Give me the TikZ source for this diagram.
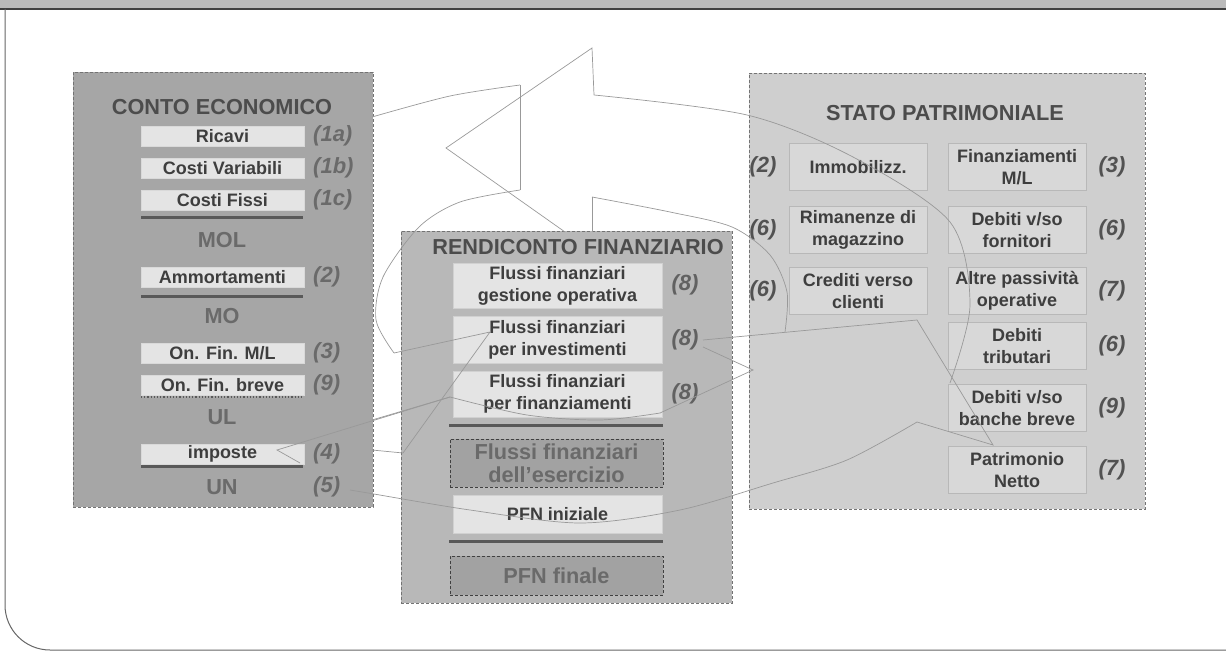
\documentclass[tikz,border=0pt]{standalone}
\usepackage{fontspec}
\setmainfont{Liberation Sans}
\usepackage{xcolor}
\usetikzlibrary{positioning}

\definecolor{cegray}{HTML}{A6A6A6}
\definecolor{rfgray}{HTML}{B8B8B8}
\definecolor{spgray}{HTML}{CFCFCF}
\definecolor{lightbox}{HTML}{E4E4E4}
\definecolor{spbox}{HTML}{D8D8D8}
\definecolor{darkbox}{HTML}{A2A2A2}
\definecolor{inktext}{HTML}{3E3E3E}
\definecolor{softtext}{HTML}{6A6A6A}

\newcommand{\itemfont}{\fontsize{18}{22}\selectfont\bfseries}
\newcommand{\headfont}{\fontsize{21.7}{23}\selectfont\bfseries}
\newcommand{\numfont}{\fontsize{22}{24}\selectfont\bfseries\itshape}

\begin{document}
\begin{tikzpicture}[x=1pt,y=-1pt,
 panel/.style={draw=black!55,densely dashed,line width=0.5pt,inner sep=0pt},
 cebox/.style={draw=black!15,fill=lightbox,minimum width=163pt,minimum height=20pt,inner sep=0pt,font=\itemfont,text=inktext},
 rfbox/.style={draw=black!18,fill=lightbox,minimum width=209pt,inner sep=0pt,align=center,font=\itemfont,text=inktext},
 rfdark/.style={draw=black!75,densely dashed,line width=0.8pt,fill=darkbox,minimum width=213pt,inner sep=0pt,align=center,font=\headfont,text=softtext},
 spitem/.style={draw=black!28,fill=spbox,minimum width=138pt,minimum height=47pt,inner sep=0pt,align=center,font=\itemfont,text=inktext},
 ttl/.style={font=\headfont,text=black!70,inner sep=0pt},
 sumtext/.style={font=\headfont,text=softtext,inner sep=0pt},
 num/.style={font=\numfont,text=softtext,inner sep=0pt},
 sepline/.style={draw=black!65,line width=3pt},
 ring/.style={draw=black!40,line width=0.7pt}]
 \useasboundingbox (0,0) rectangle (1226,652);
 % page frame
 \fill[black!27] (0,0) rectangle (1226,8);
 \draw[black!75,line width=1.2pt] (0,9) -- (1226,9);
 \draw[black!60,line width=1pt] (5,9) [rounded corners=45pt] -- (5,650) -- (1226,650);

 % conto economico
 \node[panel,fill=cegray,minimum width=300pt,minimum height=435pt] (ce) at (223,289.5) {};
 \node[ttl] (cetitle) at (222,107) {CONTO ECONOMICO};
 \node[cebox] (ricavi) at (222.5,136) {Ricavi};
 \node[cebox] (cvar) at (222.5,168) {Costi Variabili};
 \node[cebox] (cfix) at (222.5,200) {Costi Fissi};
 \node[sumtext] (mol) at (222,240) {MOL};
 \node[cebox] (amm) at (222.5,277) {Ammortamenti};
 \node[sumtext] (mo) at (222,316) {MO};
 \node[cebox] (onml) at (222.5,353) {On. Fin. M/L};
 \node[cebox] (onbr) at (222.5,385) {On. Fin. breve};
 \node[sumtext] (ul) at (222,417) {UL};
 \node[cebox] (imp) at (222.5,454) {imposte};
 \node[sumtext] (un) at (222,487) {UN};
 \node[num,anchor=west] (n1a) at (313,136) {(1a)};
 \node[num,anchor=west] (n1b) at (313,168) {(1b)};
 \node[num,anchor=west] (n1c) at (313,200) {(1c)};
 \node[num,anchor=west] (n2) at (313,277) {(2)};
 \node[num,anchor=west] (n3) at (313,353) {(3)};
 \node[num,anchor=west] (n9) at (313,385) {(9)};
 \node[num,anchor=west] (n4) at (313,454) {(4)};
 \node[num,anchor=west] (n5) at (313,487) {(5)};
 \draw[sepline] (141,218) -- (303,218);
 \draw[sepline] (141,297) -- (303,297);
 \draw[sepline,line width=1.2pt,dotted] (141,397) -- (303,397);
 \draw[sepline] (141,466) -- (303,466);

 % rendiconto finanziario
 \node[panel,fill=rfgray,minimum width=331pt,minimum height=372pt] (rf) at (566.5,417) {};
 \node[ttl] (rftitle) at (578,247) {RENDICONTO FINANZIARIO};
 \node[rfbox,minimum height=45pt] (fop) at (557.5,285.5) {Flussi finanziari\\gestione operativa};
 \node[rfbox,minimum height=47pt] (finv) at (557.5,339.5) {Flussi finanziari\\per investimenti};
 \node[rfbox,minimum height=46pt] (ffin) at (557.5,394) {Flussi finanziari\\per finanziamenti};
 \node[rfdark,minimum height=48pt] (fes) at (556.5,463) {Flussi finanziari\\dell'esercizio};
 \node[rfbox,minimum height=38pt] (pfni) at (557.5,514) {PFN iniziale};
 \node[rfdark,minimum height=39pt] (pfnf) at (556.5,575.5) {PFN finale};
 \node[num,text=black!62] (n8a) at (685,285) {(8)};
 \node[num,text=black!62] (n8b) at (685,340) {(8)};
 \node[num,text=black!62] (n8c) at (685,394) {(8)};
 \draw[sepline] (449,425) -- (663,425);
 \draw[sepline] (449,541) -- (663,541);

 % stato patrimoniale
 \node[panel,fill=spgray,minimum width=396pt,minimum height=436pt] (sp) at (947,291) {};
 \node[ttl] (sptitle) at (945,113) {STATO PATRIMONIALE};
 \node[spitem] (immo) at (858,167) {Immobilizz.};
 \node[spitem] (rima) at (858,230) {Rimanenze di\\magazzino};
 \node[spitem] (cred) at (858,291) {Crediti verso\\clienti};
 \node[spitem] (fml) at (1017,167) {Finanziamenti\\M/L};
 \node[spitem] (dfor) at (1017,230) {Debiti v/so\\fornitori};
 \node[spitem] (altre) at (1017,291) {Altre passività\\operative};
 \node[spitem] (dtrib) at (1017,346) {Debiti\\tributari};
 \node[spitem] (dban) at (1017,408) {Debiti v/so\\banche breve};
 \node[spitem] (pn) at (1017,470) {Patrimonio\\Netto};
 \node[num,text=black!68] (s2) at (763,167) {(2)};
 \node[num,text=black!68] (s6a) at (763,230) {(6)};
 \node[num,text=black!68] (s6b) at (763,291) {(6)};
 \node[num,text=black!68] (s3) at (1112,167) {(3)};
 \node[num,text=black!68] (s6c) at (1112,230) {(6)};
 \node[num,text=black!68] (s7a) at (1112,291) {(7)};
 \node[num,text=black!68] (s6d) at (1112,346) {(6)};
 \node[num,text=black!68] (s9) at (1112,408) {(9)};
 \node[num,text=black!68] (s7b) at (1112,470) {(7)};

 % circular block arrows, outline only
 \draw[ring] plot[smooth] coordinates {(950,383) (970,305) (950,222) (853,157) (747,115) (594,95)};
 \draw[ring] (594,95) -- (592,48) -- (446,148) -- (565,232);
 \draw[ring] (592,232) -- (592,197);
 \draw[ring] plot[smooth] coordinates {(592,197) (670,212) (732,227) (770,255) (787,292) (785,332)};
 \draw[ring] plot[smooth] coordinates {(372,117) (450,96) (520,85)};
 \draw[ring] (520,85) -- (520,190);
 \draw[ring] plot[smooth] coordinates {(520,190) (460,202) (419,227) (383,277) (376,320) (394,353)};
 \draw[ring] (394,353) -- (490,332) -- (403,453) -- (372,450);
 \draw[ring] (372,420) -- (450,397);
 \draw[ring] (450,397) -- (277,450) -- (300,463);
 \draw[ring] plot[smooth] coordinates {(450,397) (527,415) (600,420) (660,413)};
 \draw[ring] (660,413) -- (753,370) -- (703,347);
 \draw[ring] (703,340) -- (917,320) -- (993,445) -- (917,422);
 \draw[ring] plot[smooth] coordinates {(917,422) (847,460) (773,483) (680,510) (580,523) (470,510) (368,493) (350,490)};
\end{tikzpicture}
\end{document}
